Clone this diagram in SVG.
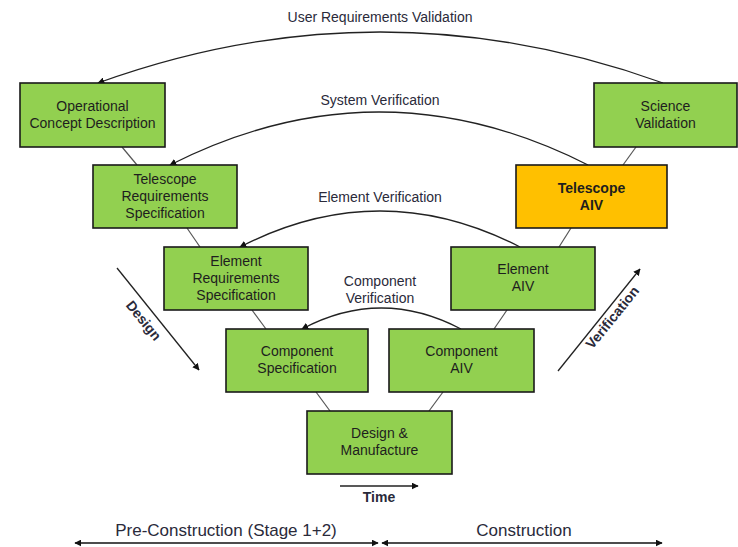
<svg xmlns="http://www.w3.org/2000/svg" width="738" height="547" viewBox="0 0 738 547">
  <style>
    .box { fill: #92D050; stroke: #1a1a1a; stroke-width: 1.6; }
    .aiv { fill: #FFC000; stroke: #1a1a1a; stroke-width: 1.6; }
    .nt { font-family: "Liberation Sans", Arial, sans-serif; font-size: 14px; fill: #1e1e1e; text-anchor: middle; }
    .bold { font-weight: bold; }
    .lbl { font-family: "Liberation Sans", Arial, sans-serif; font-size: 14px; fill: #2a2a3a; text-anchor: middle; }
    .big { font-size: 17px; }
    .link { stroke: #555; stroke-width: 1.2; fill: none; }
    .arc { stroke: #222; stroke-width: 1.3; fill: none; marker-end: url(#head); }
    .dir { stroke: #222; stroke-width: 1.3; fill: none; marker-end: url(#head); }
    .span { stroke: #111; stroke-width: 1.5; fill: none; marker-start: url(#head2); marker-end: url(#head2); }
  </style>
  <defs>
    <marker id="head" viewBox="0 0 10 10" refX="9" refY="5" markerWidth="7" markerHeight="7" markerUnits="userSpaceOnUse" orient="auto">
      <path d="M0,0 L10,5 L0,10 z" fill="#111"/>
    </marker>
    <marker id="head2" viewBox="0 0 10 10" refX="9" refY="5" markerWidth="7" markerHeight="7" markerUnits="userSpaceOnUse" orient="auto-start-reverse">
      <path d="M0,0 L10,5 L0,10 z" fill="#111"/>
    </marker>
  </defs>
  <rect width="738" height="547" fill="#ffffff"/>

  <g id="connectors">
    <!-- links along the V -->
    <line class="link" x1="122" y1="147" x2="137" y2="165"/>
    <line class="link" x1="187" y1="228" x2="200" y2="247"/>
    <line class="link" x1="252" y1="310" x2="266" y2="329"/>
    <line class="link" x1="316" y1="392" x2="330" y2="411"/>
    <line class="link" x1="636" y1="147" x2="623" y2="165"/>
    <line class="link" x1="571" y1="228" x2="559" y2="247"/>
    <line class="link" x1="507" y1="310" x2="494" y2="329"/>
    <line class="link" x1="443" y1="392" x2="429" y2="411"/>
    <!-- verification / validation arcs -->
    <path class="arc" d="M663,83 Q380,-19 98,83"/>
    <path class="arc" d="M588,165 Q379,59 170,165"/>
    <path class="arc" d="M520,247 Q380,175 240,247"/>
    <path class="arc" d="M461,329 Q381,287 302,329"/>
    <!-- direction arrows -->
    <line class="dir" x1="117" y1="268" x2="199" y2="370"/>
    <line class="dir" x1="558" y1="371" x2="640" y2="269"/>
    <line class="dir" x1="340" y1="486" x2="418" y2="486"/>
    <!-- phase spans -->
    <line class="span" x1="75" y1="543" x2="378" y2="543"/>
    <line class="span" x1="382" y1="543" x2="662" y2="543"/>
  </g>

  <g id="labels">
    <text class="lbl" x="380" y="22">User Requirements Validation</text>
    <text class="lbl" x="380" y="105">System Verification</text>
    <text class="lbl" x="380" y="202">Element Verification</text>
    <text class="lbl" x="380" y="286">Component</text>
    <text class="lbl" x="380" y="303">Verification</text>
    <text class="lbl bold" x="379" y="502" font-size="13">Time</text>
    <text class="lbl bold" font-size="13" transform="translate(143,321) rotate(51)" y="4">Design</text>
    <text class="lbl bold" font-size="13" transform="translate(613,318) rotate(-51)" y="4">Verification</text>
    <text class="lbl big" x="226" y="536">Pre-Construction (Stage 1+2)</text>
    <text class="lbl big" x="524" y="536">Construction</text>
  </g>

  <g id="operational-concept">
    <rect class="box" x="20" y="83" width="145" height="64"/>
    <text class="nt" x="92.5" y="111">Operational</text>
    <text class="nt" x="92.5" y="128">Concept Description</text>
  </g>
  <g id="telescope-requirements">
    <rect class="box" x="93" y="165" width="144" height="63"/>
    <text class="nt" x="165" y="184">Telescope</text>
    <text class="nt" x="165" y="201">Requirements</text>
    <text class="nt" x="165" y="218">Specification</text>
  </g>
  <g id="element-requirements">
    <rect class="box" x="164" y="247" width="144" height="63"/>
    <text class="nt" x="236" y="266">Element</text>
    <text class="nt" x="236" y="283">Requirements</text>
    <text class="nt" x="236" y="300">Specification</text>
  </g>
  <g id="component-specification">
    <rect class="box" x="226" y="329" width="142" height="63"/>
    <text class="nt" x="297" y="356">Component</text>
    <text class="nt" x="297" y="373">Specification</text>
  </g>
  <g id="design-manufacture">
    <rect class="box" x="307" y="411" width="145" height="63"/>
    <text class="nt" x="379.5" y="438">Design &amp;</text>
    <text class="nt" x="379.5" y="455">Manufacture</text>
  </g>
  <g id="component-aiv">
    <rect class="box" x="389" y="329" width="145" height="63"/>
    <text class="nt" x="461.5" y="356">Component</text>
    <text class="nt" x="461.5" y="373">AIV</text>
  </g>
  <g id="element-aiv">
    <rect class="box" x="451" y="247" width="144" height="63"/>
    <text class="nt" x="523" y="274">Element</text>
    <text class="nt" x="523" y="291">AIV</text>
  </g>
  <g id="telescope-aiv">
    <rect class="aiv" x="516" y="165" width="151" height="63"/>
    <text class="nt bold" x="591.5" y="193">Telescope</text>
    <text class="nt bold" x="591.5" y="210">AIV</text>
  </g>
  <g id="science-validation">
    <rect class="box" x="594" y="83" width="143" height="64"/>
    <text class="nt" x="665.5" y="111">Science</text>
    <text class="nt" x="665.5" y="128">Validation</text>
  </g>
</svg>
